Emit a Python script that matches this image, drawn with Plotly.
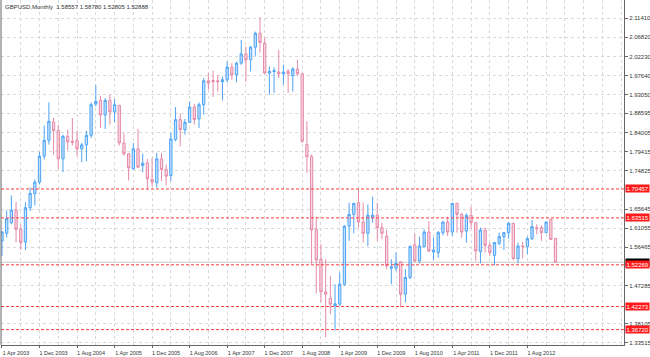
import plotly.graph_objects as go
import pandas as pd

symbol_title = "GBPUSD,Monthly  1.58557 1.58780 1.52805 1.52888"
dates = pd.date_range("2003-04-01", periods=119, freq="MS")

opens = [1.5798,1.5982,1.6238,1.6539,1.6077,1.5773,1.6596,1.6939,1.7209,1.7831,
         1.8213,1.8654,1.8445,1.7769,1.8309,1.8190,1.8206,1.8008,1.8103,1.8333,
         1.9084,1.9170,1.8821,1.9170,1.8893,1.9051,1.8151,1.7888,1.7529,1.8008,
         1.7608,1.7673,1.7273,1.7194,1.7769,1.7513,1.7369,1.8230,1.8709,1.8469,
         1.8644,1.9012,1.8725,1.9067,1.9641,1.9649,1.9641,1.9618,1.9665,1.9969,
         1.9785,2.0065,2.0287,2.0144,2.0448,2.0782,2.0543,1.9826,1.9864,1.9850,
         1.9809,1.9874,1.9761,1.9921,1.9809,1.8111,1.7831,1.6077,1.5360,1.4578,
         1.4420,1.4243,1.4283,1.4762,1.6156,1.6436,1.6716,1.6252,1.5982,1.6357,
         1.6419,1.6118,1.5917,1.5145,1.5145,1.5295,1.4523,1.4922,1.5711,1.5319,
         1.5663,1.6013,1.5534,1.5520,1.5998,1.6252,1.6013,1.6699,1.6436,1.6037,
         1.6412,1.6238,1.5544,1.6061,1.5695,1.5455,1.5743,1.5903,1.5998,1.6221,
         1.5376,1.5678,1.5663,1.5855,1.6118,1.6118,1.5998,1.6316,1.58557]
highs = [1.6037,1.6532,1.6891,1.6730,1.6197,1.6730,1.7082,1.7273,1.7926,1.8565,
         1.9122,1.8749,1.8589,1.8350,1.8469,1.8749,1.8445,1.8151,1.8445,1.9122,
         1.9539,1.9283,1.9228,1.9307,1.9204,1.9067,1.8390,1.7912,1.8151,1.8486,
         1.7895,1.7769,1.7792,1.7912,1.7912,1.7632,1.8390,1.9012,1.8852,1.8725,
         1.9146,1.9091,1.9122,1.9706,1.9826,1.9888,1.9785,1.9744,2.0103,2.0065,
         2.0103,2.0622,2.0462,2.0479,2.0821,2.1165,2.0663,1.9983,1.9969,2.0383,
         2.0024,1.9921,1.9969,2.0144,1.9826,1.8668,1.7871,1.6381,1.5719,1.5360,
         1.4960,1.4762,1.5041,1.6173,1.6716,1.6716,1.7034,1.6716,1.6675,1.6859,
         1.6716,1.6238,1.6061,1.5360,1.5520,1.5319,1.5121,1.5695,1.5982,1.5903,
         1.6077,1.6276,1.5879,1.6037,1.6276,1.6381,1.6716,1.6716,1.6477,1.6460,
         1.6620,1.6252,1.6118,1.6118,1.5759,1.5774,1.5998,1.6013,1.6252,1.6238,
         1.5759,1.5774,1.5903,1.6300,1.6197,1.6173,1.6276,1.6333,1.58780]
lows = [1.5439,1.5886,1.6197,1.5766,1.5582,1.5582,1.6515,1.6650,1.7154,1.7752,
        1.8111,1.7871,1.7529,1.7448,1.7974,1.8087,1.7831,1.7687,1.7711,1.8271,
        1.9027,1.8510,1.8486,1.8589,1.8644,1.8087,1.7847,1.7249,1.7513,1.7553,
        1.7448,1.7034,1.7113,1.7075,1.7233,1.7130,1.7233,1.8190,1.8070,1.8350,
        1.8630,1.8589,1.8510,1.8828,1.9426,1.9252,1.9385,1.9170,1.9601,1.9665,
        1.9601,2.0024,1.9625,1.9864,2.0239,2.0318,1.9809,1.9307,1.9347,1.9706,
        1.9546,1.9347,1.9385,1.9761,1.8151,1.7434,1.5240,1.4546,1.4324,1.3487,
        1.4044,1.3645,1.4243,1.4721,1.5797,1.5982,1.6118,1.5759,1.5678,1.6238,
        1.5797,1.5838,1.5121,1.4762,1.5080,1.4204,1.4324,1.4881,1.5279,1.5264,
        1.5640,1.5534,1.5343,1.5400,1.5934,1.5917,1.5917,1.5998,1.5879,1.5759,
        1.6094,1.5319,1.5264,1.5520,1.5439,1.5216,1.5695,1.5582,1.5855,1.5343,
        1.5264,1.5376,1.5479,1.5821,1.5958,1.5797,1.5982,1.5821,1.52805]
closes = [1.6013,1.6333,1.6539,1.6077,1.5759,1.6596,1.6939,1.7209,1.7831,1.8213,
          1.8668,1.8445,1.7769,1.8309,1.8175,1.8166,1.8008,1.8103,1.8333,1.9067,
          1.9146,1.8821,1.9170,1.8893,1.9067,1.8151,1.7888,1.7553,1.8008,1.7568,
          1.7663,1.7290,1.7209,1.7769,1.7513,1.7352,1.8247,1.8709,1.8469,1.8644,
          1.9012,1.8709,1.9067,1.9641,1.9586,1.9618,1.9618,1.9665,1.9969,1.9785,
          2.0065,2.0287,2.0144,2.0448,2.0782,2.0558,1.9826,1.9864,1.9881,1.9809,
          1.9850,1.9809,1.9921,1.9809,1.8190,1.7816,1.6061,1.5343,1.4578,1.4523,
          1.4283,1.4291,1.4762,1.6156,1.6436,1.6699,1.6252,1.5982,1.6419,1.6419,
          1.6118,1.5982,1.5199,1.5176,1.5257,1.4523,1.4922,1.5663,1.5319,1.5678,
          1.6013,1.5558,1.5582,1.5998,1.6252,1.6013,1.6699,1.6436,1.6013,1.6412,
          1.6238,1.5558,1.6061,1.5695,1.5520,1.5759,1.5903,1.5998,1.6221,1.5376,
          1.5678,1.5663,1.5855,1.6142,1.6094,1.5998,1.6252,1.5838,1.52888]

price_grid = [2.11410,2.06820,2.02230,1.97640,1.93050,1.88595,1.84005,1.79415,1.74825,
              1.65645,1.61055,1.56465,1.47285,1.38105,1.33515]
price_grid_labels = ["2.11410","2.06820","2.02230","1.97640","1.93050","1.88595","1.84005",
                     "1.79415","1.74825","1.65645","1.61055","1.56465","1.47285",
                     "1.38105","1.33515"]
level_prices = [1.70457, 1.63515, 1.52269, 1.42273, 1.36720]
bid_price = 1.52888

label_step = 8
grid_step = 4

idx = list(range(len(dates)))
tick_idx = idx[::label_step]
tick_text = [f"{dates[i].day} {dates[i].strftime('%b %Y')}" for i in tick_idx]

FONT = "Liberation Sans"
UP_LINE = "#4da3f5"
UP_FILL = "rgba(175,215,250,0.75)"
DN_LINE = "#e58aa8"
DN_FILL = "rgba(247,200,215,0.75)"

fig = go.Figure()
fig.add_trace(go.Candlestick(
    x=idx, open=opens, high=highs, low=lows, close=closes,
    increasing=dict(line=dict(color=UP_LINE, width=1), fillcolor=UP_FILL),
    decreasing=dict(line=dict(color=DN_LINE, width=1), fillcolor=DN_FILL),
    whiskerwidth=0, showlegend=False, hoverinfo="skip",
))

shapes = []
for v in level_prices:
    shapes.append(dict(type="line", xref="paper", x0=0, x1=1, yref="y", y0=v, y1=v,
                       line=dict(color="#ff3b3b", width=1, dash="3px,2px"), layer="above"))
shapes.append(dict(type="line", xref="paper", x0=0, x1=1, yref="y", y0=bid_price, y1=bid_price,
                   line=dict(color="#c8c8c8", width=1), layer="below"))
shapes.append(dict(type="line", xref="paper", yref="paper", x0=0, x1=0, y0=0, y1=1,
                   line=dict(color="#666666", width=1)))

annotations = [dict(text=symbol_title, xref="paper", yref="paper", x=0, y=1, xanchor="left",
                    yanchor="top", xshift=2, yshift=-2, showarrow=False,
                    font=dict(family=FONT, size=6, color="#333333"))]
annotations.append(dict(text=f"{bid_price:.5f}", xref="paper", yref="y", x=1, y=bid_price,
                        xanchor="left", yanchor="middle", xshift=1, showarrow=False,
                        bgcolor="#000000", borderpad=0.5,
                        font=dict(family=FONT, size=6, color="#ffffff")))
for v in level_prices:
    annotations.append(dict(text=f"{v:.5f}", xref="paper", yref="y", x=1, y=v,
                            xanchor="left", yanchor="middle", xshift=1, showarrow=False,
                            bgcolor="#ff1a1a", borderpad=0.5,
                            font=dict(family=FONT, size=6, color="#ffffff")))

fig.update_layout(
    width=650, height=357,
    margin=dict(l=1, r=26, t=0, b=12, pad=0, autoexpand=False),
    paper_bgcolor="white", plot_bgcolor="white",
    shapes=shapes, annotations=annotations,
    boxgap=0.3,
    xaxis=dict(range=[-0.21, 132.6], tickvals=tick_idx, ticktext=tick_text,
               tickangle=0, ticklabelshift=14, ticklabelstandoff=0, automargin=False,
               showgrid=True, gridcolor="#d9d9d9", griddash="dot", gridwidth=1,
               minor=dict(dtick=grid_step, tick0=0, showgrid=True, gridcolor="#d9d9d9",
                          griddash="dot", ticks=""),
               showline=True, linecolor="#666666", linewidth=1,
               ticks="outside", ticklen=2, tickcolor="#666666",
               tickfont=dict(family=FONT, size=5.5, color="#333333"),
               rangeslider=dict(visible=False), zeroline=False, fixedrange=True),
    yaxis=dict(side="right", range=[1.3303, 2.1579], tickvals=price_grid,
               ticktext=price_grid_labels, automargin=False,
               showgrid=True, gridcolor="#d9d9d9", griddash="dot", gridwidth=1,
               showline=True, linecolor="#666666", linewidth=1,
               ticks="outside", ticklen=3, tickcolor="#666666",
               tickfont=dict(family=FONT, size=6, color="#333333"),
               zeroline=False, fixedrange=True),
)

fig.write_html("out.html", config={"displayModeBar": False},
               post_script="document.body.style.margin='0';")
